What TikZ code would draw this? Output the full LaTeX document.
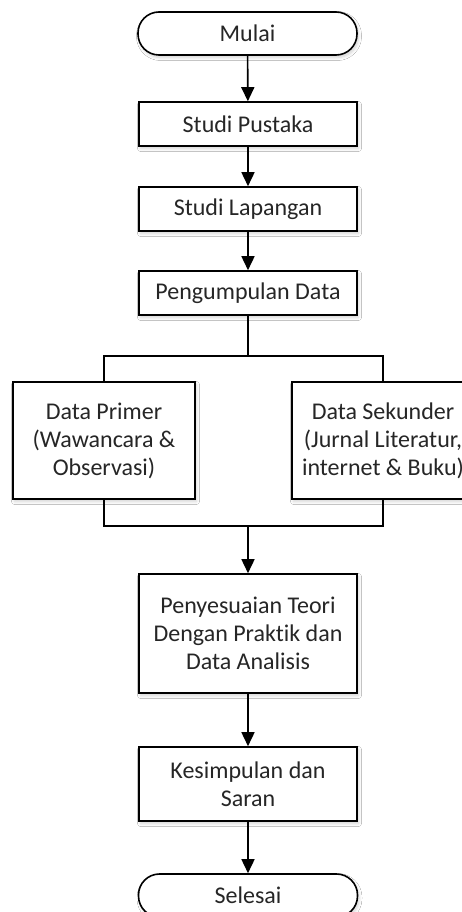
\documentclass[tikz,border=0pt]{standalone}
\usepackage{fontspec}
\setmainfont{Carlito}[Ligatures=NoCommon]
\usetikzlibrary{arrows.meta,shadows.blur}
\begin{document}
\begin{tikzpicture}[x=1pt,y=-1pt,
  base/.style={draw=black, line width=1.6pt, fill=white, inner sep=0pt,
    align=center, text=black!85,
    font=\fontsize{24}{28}\selectfont,
    blur shadow={shadow xshift=1.5pt, shadow yshift=-2.5pt, shadow blur steps=6,
      shadow opacity=18, shadow blur radius=3pt}},
  proc/.style={base, rectangle, minimum width=218pt},
  term/.style={base, rectangle, rounded corners=21pt, minimum width=219pt, minimum height=43pt},
  link/.style={line width=1.6pt, draw=black},
  arr/.style={link, -{Triangle[length=14pt,width=13pt]}}
]
\useasboundingbox (0,0) rectangle (462,912);
\fill[white] (0,0) rectangle (462,912);

% steps of the flow
\node[term] (mulai) at (247.5,33.5) {Mulai};
\node[proc, minimum height=44pt] (pustaka) at (248,124) {Studi Pustaka};
\node[proc, minimum height=44pt] (lapangan) at (248,209) {Studi Lapangan};
\node[proc, minimum height=44pt] (kumpul) at (248,293) {Pengumpulan Data};
\node[proc, minimum width=182pt, minimum height=117pt] (primer) at (104,440.5)
  {Data Primer\\(Wawancara \&\\Observasi)};
\node[proc, minimum width=182pt, minimum height=117pt] (sekunder) at (383,440.5)
  {Data Sekunder\\(Jurnal Literatur,\\internet \& Buku)};
\node[proc, minimum height=119pt] (teori) at (248,633.5)
  {Penyesuaian Teori\\Dengan Praktik dan\\Data Analisis};
\node[proc, minimum height=74pt] (simpul) at (248,784) {Kesimpulan dan\\Saran};
\node[term] (selesai) at (248,895.5) {Selesai};

% branch and merge points
\coordinate (split) at (248,356);
\coordinate (merge) at (248,526);

% connectors
\draw[arr] (mulai) -- (pustaka);
\draw[arr] (pustaka) -- (lapangan);
\draw[arr] (lapangan) -- (kumpul);
\draw[link] (kumpul) -- (split);
\draw[link] (primer.north) |- (split) -| (sekunder.north);
\draw[link] (primer.south) |- (merge) -| (sekunder.south);
\draw[arr] (merge) -- (teori);
\draw[arr] (teori) -- (simpul);
\draw[arr] (simpul) -- (selesai);
\end{tikzpicture}
\end{document}
